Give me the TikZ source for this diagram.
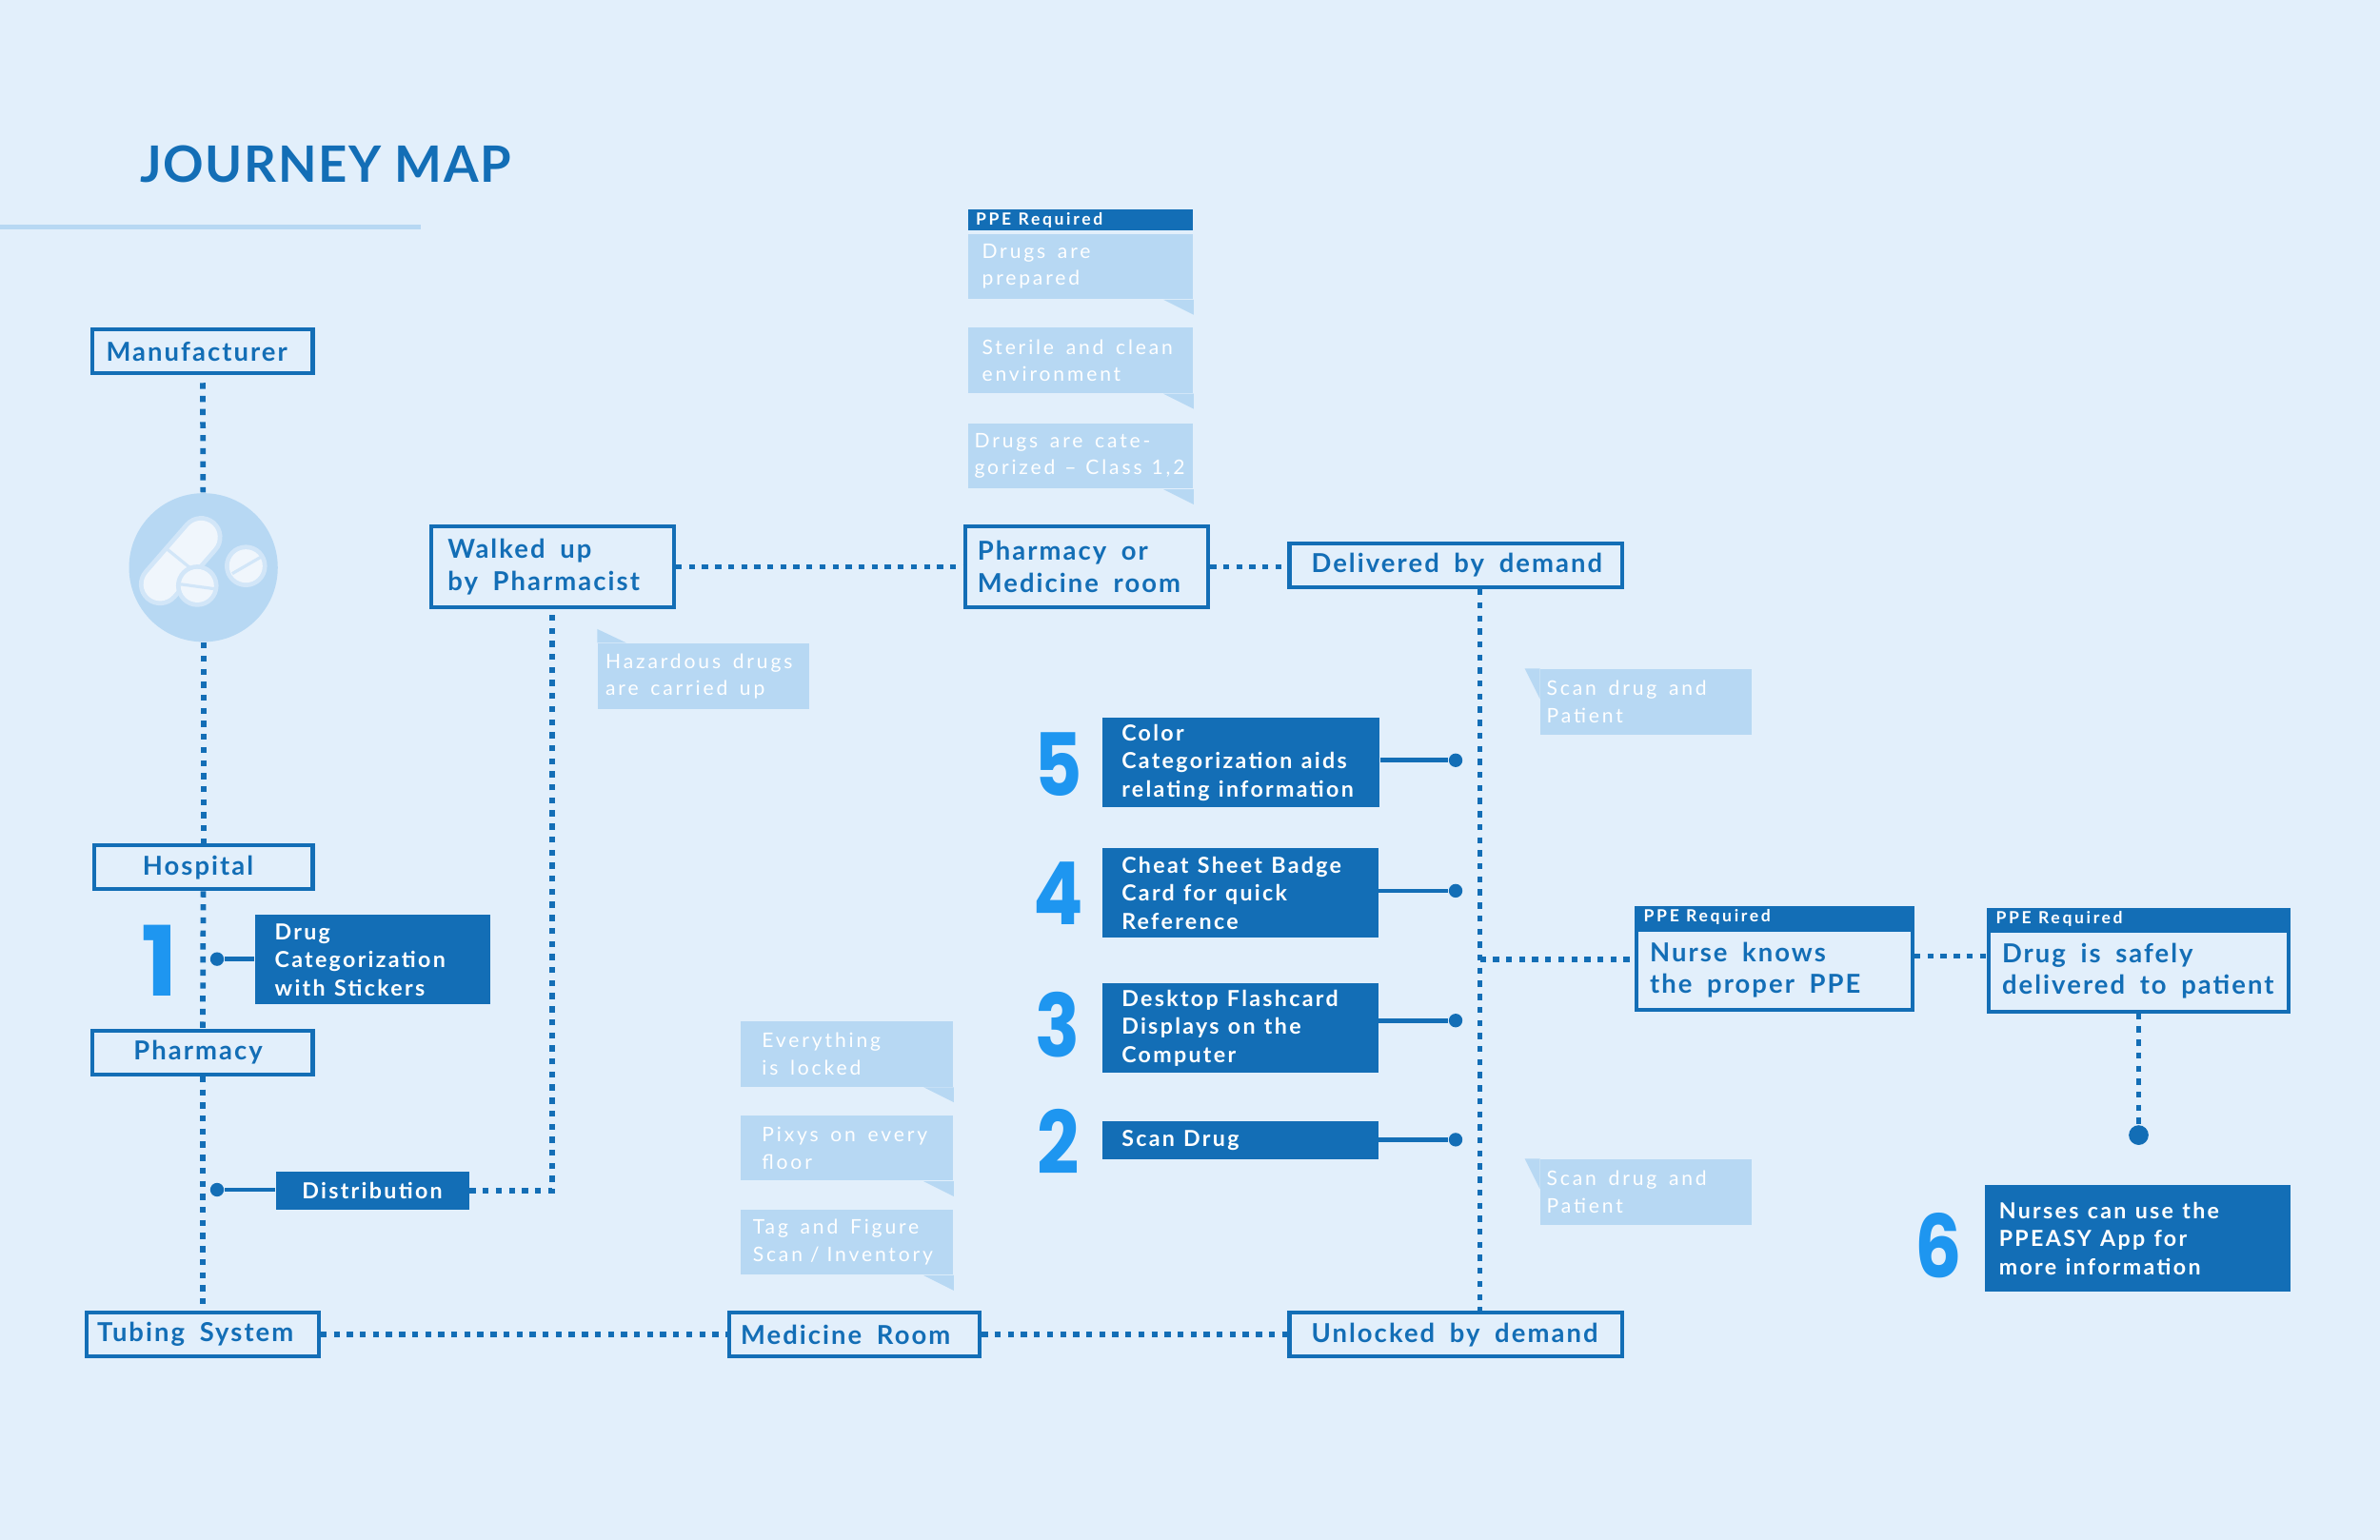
\documentclass[tikz,border=0pt]{standalone}
\usepackage{fontspec}
\usepackage{xcolor}
\usepackage{tikz}
\setmainfont{Lato}
\newfontfamily\stagefont[LetterSpace=7.5]{Lato}
\newfontfamily\calloutfont[LetterSpace=10]{Lato}
\newfontfamily\ppefont[LetterSpace=15]{Lato}
\newfontfamily\notefont[LetterSpace=13.5]{Lato}
\newfontfamily\titlefont[LetterSpace=3]{Lato}
\newfontfamily\numfont[FakeStretch=0.85]{Poppins}
\newfontfamily\onefont{Poppins}
\usetikzlibrary{positioning, calc}
\definecolor{fundo}{HTML}{E2EFFB}
\definecolor{azul}{HTML}{136EB6}
\definecolor{palido}{HTML}{B7D8F3}
\definecolor{vivo}{HTML}{1E96F0}
\definecolor{pilula}{HTML}{F0F6FC}
\definecolor{contorno}{HTML}{D2E6F8}
\newlength{\un}
\setlength{\un}{0.015944cm}

\begin{document}
\begin{tikzpicture}[
    x=0.015944cm, y=-0.015944cm,
    dims/.style n args={3}{minimum width=#1\un, minimum height=#2\un, text width=#3\un},
    stage/.style={draw=azul, line width=2.6\un, inner sep=0pt, align=flush left, text=azul,
                  font=\stagefont\bfseries\fontsize{7.8}{9.5}\selectfont\spaceskip 0.57em\relax},
    callout/.style={fill=azul, inner sep=0pt, align=flush left, text=white,
                    font=\calloutfont\bfseries\fontsize{6.6}{8.4}\selectfont\spaceskip 0.4em\relax},
    ppe/.style={fill=azul, inner sep=0pt, align=flush left, text=white,
                font=\ppefont\bfseries\fontsize{5}{6}\selectfont\spaceskip 0.42em\relax},
    note/.style={fill=palido, inner sep=0pt, align=flush left, text=white,
                 font=\notefont\fontsize{6}{8.1}\selectfont\spaceskip 0.6em\relax},
    bignum/.style={inner sep=0pt, text=vivo, font=\numfont\bfseries\fontsize{26}{26}\selectfont},
    link/.style={azul, line width=3.6\un, dash pattern=on 4\un off 4.6\un},
    stem/.style={azul, line width=3\un},
    dot/.style={circle, fill=azul, inner sep=0pt, minimum size=9\un}
]
    \fill[fundo] (0,0) rectangle (1568,1014.8);
    \useasboundingbox (0,0) rectangle (1568,1014.8);

    % title
    \node[inner sep=0pt, anchor=base west, text=azul, font=\titlefont\bfseries\fontsize{15}{16}\selectfont] (title) at (92,120) {JOURNEY MAP};
    \fill[palido] (0,148) rectangle (277,151);

    % left column
    \node[stage, dims={145}{29}{127}] (maker) at (133.5,231.5) {Manufacturer};
    \node[circle, fill=palido, inner sep=0pt, minimum size=98\un] (pills) at (134,374) {};
    \node[stage, dims={144}{29}{80}] (hospital) at (134,571.5) {Hospital};
    \node[stage, dims={145}{29}{91}] (pharmacy) at (133.5,693.5) {Pharmacy};
    \node[stage, dims={153}{29}{139}] (tubing) at (133.5,879.5) {\mbox{Tubing System}};

    % pills
    \draw[contorno, line width=28\un, line cap=round] (105.5,385) -- (132.5,354);
    \draw[pilula, line width=22\un, line cap=round] (105.5,385) -- (132.5,354);
    \draw[contorno, line width=2\un] (109,361) -- (125,374);
    \foreach \px/\py/\ax/\ay/\bx/\by in {130/386/119/385/141/388, 162/373/153/378/172/367} {
        \fill[contorno] (\px,\py) circle (14);
        \fill[pilula] (\px,\py) circle (11);
        \draw[contorno, line width=2\un] (\ax,\ay) -- (\bx,\by);
    }

    % upper row
    \node[stage, dims={160}{53}{138}] (walked) at (364,373.5) {Walked up\\\mbox{by Pharmacist}};
    \node[stage, dims={160}{53}{144}] (room) at (716,373.5) {Pharmacy or\\\mbox{Medicine room}};
    \node[stage, dims={219}{29}{190}] (delivered) at (959,372.5) {\mbox{Delivered by demand}};

    % lower row
    \node[stage, dims={165}{29}{150}] (medroom) at (563,879.5) {\mbox{Medicine Room}};
    \node[stage, dims={219}{29}{190}] (unlocked) at (959,879.5) {\mbox{Unlocked by demand}};

    % callouts
    \node[callout, dims={155}{59}{129}] (sticker) at (245.5,632.5) {Drug\\Categorization\\with Stickers};
    \node[callout, dims={127}{25}{93}] (distrib) at (245.5,784.5) {Distribution};
    \node[callout, dims={183}{59}{157}] (box5) at (817.5,502.5) {Color\\\mbox{Categorization aids}\\\mbox{relating information}};
    \node[callout, dims={182}{59}{156}] (box4) at (817,588.5) {\mbox{Cheat Sheet Badge}\\Card for quick\\Reference};
    \node[callout, dims={182}{59}{156}] (box3) at (817,677.5) {\mbox{Desktop Flashcard}\\Displays on the\\Computer};
    \node[callout, dims={182}{25}{156}] (box2) at (817,751.5) {Scan Drug};
    \node[callout, dims={201}{70}{183}] (box6) at (1408.5,816) {Nurses can use the\\PPEASY App for\\more information};

    % big numbers
    \node[bignum, font=\onefont\bfseries\fontsize{29}{29}\selectfont] (num1) at (105,633) {1};
    \node[bignum] (num2) at (697,752) {2};
    \node[bignum] (num3) at (697,675.5) {3};
    \node[bignum] (num4) at (697,589) {4};
    \node[bignum] (num5) at (697,503.5) {5};
    \node[bignum] (num6) at (1277,821) {6};

    % right boxes
    \node[stage, dims={182}{53}{164}] (nurse) at (1169,639) {Nurse knows\\\mbox{the proper PPE}};
    \node[ppe, dims={184}{15}{172}, above=-1.3\un of nurse.north] (nurseppe) {PPE Required};
    \node[stage, dims={198}{53}{180}] (safe) at (1409,640) {Drug is safely\\\mbox{delivered to patient}};
    \node[ppe, dims={200}{15}{188}, above=-1.3\un of safe.north] (safeppe) {PPE Required};

    % notes
    \node[ppe, dims={148}{14}{138}] (notesppe) at (712,145) {PPE Required};
    \node[note, dims={148}{43}{130}] (noteA) at (712,175.5) {Drugs are\\prepared};
    \node[note, dims={148}{43}{130}] (noteB) at (712,237.5) {\mbox{Sterile and clean}\\environment};
    \node[note, dims={148}{43}{140}] (noteC) at (712,300.5) {\mbox{Drugs are cate-}\\\mbox{\spaceskip 0.47em\relax gorized – Class 1,2}};
    \node[note, dims={140}{43}{112}] (noteD) at (558,694.5) {Everything\\is locked};
    \node[note, dims={140}{43}{112}] (noteE) at (558,756.5) {\mbox{Pixys on every}\\floor};
    \node[note, dims={140}{43}{124}] (noteF) at (558,818.5) {\mbox{Tag and Figure}\\\mbox{\spaceskip 0.38em\relax Scan / Inventory}};
    \node[note, dims={139}{43}{129}] (noteG) at (463.5,445.5) {\mbox{Hazardous drugs}\\are carried up};
    \node[note, dims={139}{43}{131}] (noteH) at (1084.5,462.5) {\mbox{Scan drug and}\\Patient};
    \node[note, dims={139}{43}{131}] (noteI) at (1084.5,785.5) {\mbox{Scan drug and}\\Patient};

    % note tails
    \foreach \n in {noteA, noteB, noteC, noteD, noteE, noteF} {
        \fill[palido] (\n.south east) -- ++(0,10) -- ++(-20,-10) -- cycle;
    }
    \fill[palido] (noteG.north west) -- ++(0,-9) -- ++(19,9) -- cycle;
    \foreach \n in {noteH, noteI} {
        \fill[palido] (\n.north west) -- ++(-10,0) -- ++(10,20) -- cycle;
    }

    % dots
    \node[dot] (dot1) at (143,632) {};
    \node[dot] (dotd) at (143,784) {};
    \node[dot] (dot5) at (959,501) {};
    \node[dot] (dot4) at (959,587) {};
    \node[dot] (dot3) at (959,672.5) {};
    \node[dot] (dot2) at (959,751) {};
    \node[dot, minimum size=13\un] (dot6) at (1409,748) {};

    \draw[stem] (dot1) -- (dot1 -| sticker.west);
    \draw[stem] (dotd) -- (dotd -| distrib.west);
    \draw[stem] (dot5) -- (dot5 -| box5.east);
    \draw[stem] (dot4) -- (dot4 -| box4.east);
    \draw[stem] (dot3) -- (dot3 -| box3.east);
    \draw[stem] (dot2) -- (dot2 -| box2.east);

    % dotted connectors
    \coordinate (trunk) at (975,632);
    \coordinate (handoff) at (1285,630);
    \draw[link, shorten <=5\un] (maker) -- (pills);
    \draw[link] (pills) -- (hospital);
    \draw[link] (hospital) -- (pharmacy);
    \draw[link] (pharmacy) -- (tubing);
    \draw[link] (tubing) -- (medroom);
    \draw[link] (medroom) -- (unlocked);
    \draw[link] (distrib) -| (walked);
    \draw[link] (walked) -- (walked -| room.west);
    \draw[link] (room) -- (room -| delivered.west);
    \draw[link] (trunk |- delivered.south) -- (trunk |- unlocked.north);
    \draw[link] (trunk) -- (trunk -| nurse.west);
    \draw[link] (handoff -| nurse.east) -- (handoff -| safe.west);
    \draw[link] (safe) -- (dot6);
\end{tikzpicture}
\end{document}
